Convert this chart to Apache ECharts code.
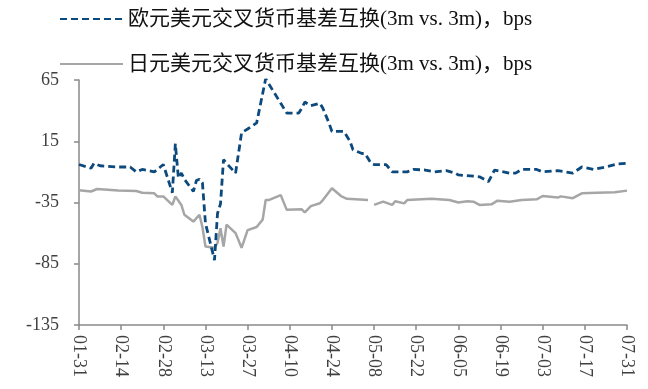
<!DOCTYPE html>
<html>
<head>
<meta charset="utf-8">
<script src="https://cdn.jsdelivr.net/npm/echarts@6/dist/echarts.min.js"></script>
<style>html,body{margin:0;padding:0;background:#fff;}#c{width:648px;height:389px;}</style>
</head>
<body>
<div id="c"></div>
<script>
var eurName = '欧元美元交叉货币基差互换(3m vs. 3m)，bps';
var jpyName = '日元美元交叉货币基差互换(3m vs. 3m)，bps';

var eurDates = ['01-31','02-04','02-05','02-07','02-12','02-17','02-19','02-21','02-25','02-27','02-28',
  '03-02','03-03','03-04','03-05','03-06','03-09','03-10','03-11','03-12','03-13','03-16','03-17','03-18',
  '03-19','03-20','03-23','03-25','03-27','03-30','04-02','04-03','04-06','04-07','04-09','04-13','04-14',
  '04-15','04-17','04-20','04-21','04-23','04-24','04-28','04-30','05-01','05-04','05-05','05-07','05-08',
  '05-12','05-14','05-19','05-21','05-25','05-28','06-01','06-04','06-05','06-10','06-12','06-15','06-17',
  '06-22','06-24','06-26','07-01','07-03','07-08','07-13','07-16','07-20','07-24','07-28','07-31'];
var eurValues = [-4,-7,-3,-5,-6,-6,-10,-8,-10,-6,-4,
  -27,13,-15,-11,-16,-26,-17,-16,-19,-52,-82,-44,-36,
  0,-3,-11,22,25,30,66,62,50,46,38,38,42,
  47,44,46,42,30,23,23,15,8,5,5,-3,-4,
  -4,-10,-10,-8,-8.5,-10,-9,-11,-12.5,-13.5,-14,-18,-8.5,
  -11,-11,-8,-8,-10,-9,-11,-6,-8,-6,-3.5,-3];

var jpyDates = ['01-31','02-04','02-06','02-13','02-19','02-21','02-25','02-26','02-28',
  '03-02','03-03','03-05','03-06','03-09','03-11','03-12','03-13','03-16','03-17','03-18','03-19','03-20',
  '03-23','03-25','03-27','03-30','04-01','04-02','04-03','04-07','04-09','04-14','04-15','04-17','04-20',
  '04-21','04-24','04-27','04-29','05-06','05-07','05-08','05-11','05-14','05-15','05-18','05-19','05-27',
  '06-02','06-05','06-08','06-10','06-12','06-16','06-18','06-22','06-26','07-01','07-03','07-08','07-09',
  '07-13','07-16','07-21','07-27','07-31'];
var jpyValues = [-25,-26,-24,-25.3,-25.6,-27,-27.5,-30,-30,
  -37,-30,-37,-45,-50.6,-45,-55,-71,-72,-68,-56,-71,-53,
  -60,-72,-57.5,-55,-49,-33,-33,-29,-41,-40.6,-43,-38,-35.6,
  -33,-23.4,-29.7,-32,-33,null,-37,-34.3,-37,-34,-35.7,-33,-32,
  -33,-35,-34,-34.3,-37,-36.5,-33.5,-34.3,-33,-32.4,-29.7,-31,-30,
  -31.5,-27.5,-27,-26.7,-25.3];

var yMin = -135, yMax = 65, yStep = 50;

// every calendar day from 2020-01-31 to 2020-07-31
var days = [];
(function(){
  var d = new Date(Date.UTC(2020,0,31));
  var end = Date.UTC(2020,6,31);
  while (d.getTime() <= end) {
    var m = d.getUTCMonth()+1, dd = d.getUTCDate();
    days.push((m<10?'0':'')+m+'-'+(dd<10?'0':'')+dd);
    d = new Date(d.getTime()+86400000);
  }
})();

function pairs(ds, vs){ return ds.map(function(d,i){ return [d, vs[i]]; }); }

var axisColor = '#898989';
var fontFam = '"Liberation Serif","Noto Sans CJK SC",serif';
var chart = echarts.init(document.getElementById('c'));
chart.setOption({
  animation: false,
  backgroundColor: '#fff',
  legend: {
    orient: 'vertical', left: 54, top: 2,
    itemWidth: 63, itemHeight: 14, itemGap: 21,
    itemStyle: { opacity: 0 },
    textStyle: { fontFamily: fontFam, fontSize: 21, color: '#111', lineHeight: 24 },
    data: [eurName, jpyName]
  },
  grid: { left: 79, right: 21, top: 80, bottom: 64, containLabel: false },
  xAxis: {
    type: 'category', data: days, boundaryGap: false,
    axisLine: { onZero: false, lineStyle: { color: axisColor, width: 1.5 } },
    axisTick: { show: true, interval: 13, length: 5, lineStyle: { color: axisColor, width: 1.5 } },
    axisLabel: { interval: 13, rotate: -90, margin: 10, fontFamily: fontFam, fontSize: 18, color: '#404040' },
    splitLine: { show: false }
  },
  yAxis: {
    type: 'value', min: yMin, max: yMax, interval: yStep,
    axisLine: { show: true, lineStyle: { color: axisColor, width: 1.5 } },
    axisTick: { show: true, length: 5, lineStyle: { color: axisColor, width: 1.5 } },
    axisLabel: { margin: 20, fontFamily: fontFam, fontSize: 18, color: '#404040' },
    splitLine: { show: false }
  },
  series: [
    { name: eurName, type: 'line', data: pairs(eurDates, eurValues), symbol: 'none', connectNulls: false,
      lineStyle: { color: '#0C4A7E', width: 2.8, type: [7, 4] }, itemStyle: { color: '#0C4A7E' }, z: 3 },
    { name: jpyName, type: 'line', data: pairs(jpyDates, jpyValues), symbol: 'none', connectNulls: false,
      lineStyle: { color: '#A6A6A6', width: 2.5 }, itemStyle: { color: '#A6A6A6' }, z: 2 }
  ]
});
</script>
</body>
</html>
